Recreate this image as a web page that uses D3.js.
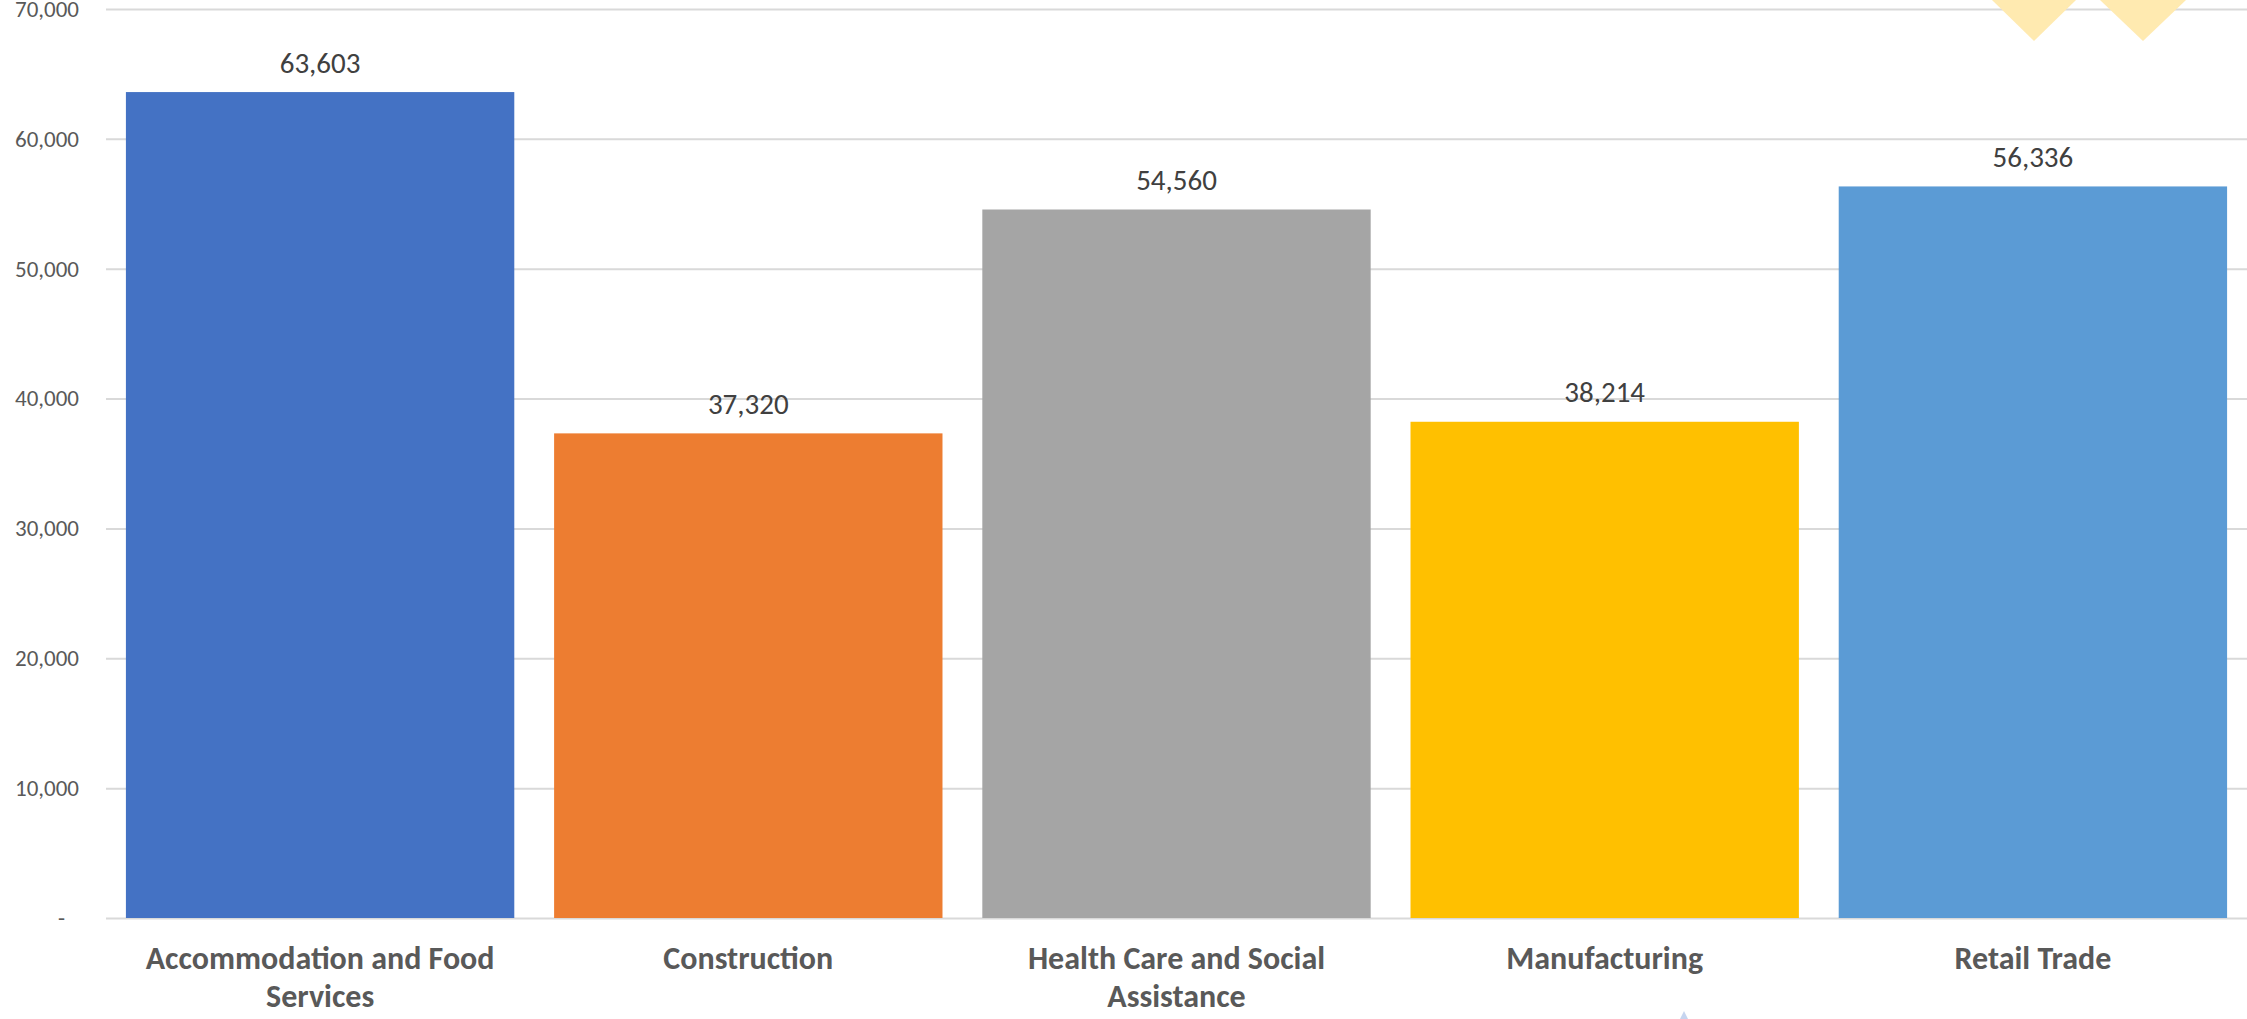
<!DOCTYPE html>
<html>
<head>
<meta charset="utf-8">
<script src="https://cdn.jsdelivr.net/npm/d3@7"></script>
<style>
  body { margin: 0; background: #ffffff; }
  svg { display: block; }
</style>
</head>
<body>
<div id="chart"></div>
<script>
// Chart data
var industries = ["Accommodation and Food Services", "Construction", "Health Care and Social Assistance", "Manufacturing", "Retail Trade"];
var workers = [63603, 37320, 54560, 38214, 56336];
var barColors = ["#4472C4", "#ED7D31", "#A5A5A5", "#FFC000", "#5B9BD5"];
var yTicks = [0, 10000, 20000, 30000, 40000, 50000, 60000, 70000];

// Define SVG area dimensions
var svgWidth = 2247;
var svgHeight = 1019;

var chartMargin = {
  top: 9,
  right: 0,
  bottom: 101,
  left: 106
};

var chartWidth = svgWidth - chartMargin.left - chartMargin.right;
var chartHeight = svgHeight - chartMargin.top - chartMargin.bottom;

var fontStack = "Calibri, Carlito, 'Liberation Sans', Arial, sans-serif";

var svg = d3.select("#chart")
  .append("svg")
  .attr("width", svgWidth)
  .attr("height", svgHeight)
  .style("font-family", fontStack);

svg.append("rect")
  .attr("width", svgWidth)
  .attr("height", svgHeight)
  .attr("fill", "#ffffff");

var chartGroup = svg.append("g")
  .attr("transform", `translate(${chartMargin.left}, ${chartMargin.top})`);

// Scales
var xScale = d3.scaleBand()
  .domain(industries)
  .range([0, chartWidth])
  .paddingInner(0.093)
  .paddingOuter(0.0465);

var yScale = d3.scaleLinear()
  .domain([0, 70000])
  .range([chartHeight, 0]);

// Gridlines
var gridAxis = d3.axisLeft(yScale)
  .tickValues(yTicks)
  .tickSize(-chartWidth)
  .tickFormat("");

var grid = chartGroup.append("g")
  .call(gridAxis);
grid.select(".domain").remove();
grid.selectAll("line")
  .attr("stroke", "#D9D9D9")
  .attr("stroke-width", 2);

// Y axis labels
var leftAxis = d3.axisLeft(yScale)
  .tickValues(yTicks)
  .tickSize(0)
  .tickPadding(27)
  .tickFormat(d => d === 0 ? "-" : d3.format(",")(d));

var yAxis = chartGroup.append("g")
  .call(leftAxis);
yAxis.select(".domain").remove();
yAxis.selectAll("text")
  .attr("font-family", fontStack)
  .attr("font-size", 23)
  .attr("fill", "#595959");
yAxis.selectAll(".tick")
  .filter(d => d === 0)
  .select("text")
  .attr("dx", -14);

// Bars
chartGroup.selectAll(".bar")
  .data(industries)
  .enter()
  .append("rect")
  .attr("class", "bar")
  .attr("x", d => xScale(d))
  .attr("y", (d, i) => yScale(workers[i]))
  .attr("width", xScale.bandwidth())
  .attr("height", (d, i) => chartHeight - yScale(workers[i]))
  .attr("fill", (d, i) => barColors[i]);

// Value labels
chartGroup.selectAll(".value")
  .data(industries)
  .enter()
  .append("text")
  .attr("class", "value")
  .attr("x", d => xScale(d) + xScale.bandwidth() / 2)
  .attr("y", (d, i) => yScale(workers[i]) - 19.5)
  .attr("text-anchor", "middle")
  .attr("font-size", 29)
  .attr("fill", "#404040")
  .text((d, i) => d3.format(",")(workers[i]));

// Category labels, wrapped to the bar width
var catGroup = chartGroup.append("g")
  .attr("transform", `translate(0, ${chartHeight})`);

var catLabels = catGroup.selectAll(".cat")
  .data(industries)
  .enter()
  .append("text")
  .attr("class", "cat")
  .attr("x", d => xScale(d) + xScale.bandwidth() / 2)
  .attr("y", 51)
  .attr("text-anchor", "middle")
  .attr("font-size", 32)
  .attr("font-weight", "bold")
  .attr("fill", "#595959");

catLabels.each(function(d) {
  var text = d3.select(this);
  var words = d.split(" ");
  var line = [];
  var x = text.attr("x");
  var tspan = text.append("tspan").attr("x", x).attr("dy", 0);
  words.forEach(function(w) {
    line.push(w);
    tspan.text(line.join(" "));
    if (tspan.node().getComputedTextLength() > xScale.bandwidth() - 20 && line.length > 1) {
      line.pop();
      tspan.text(line.join(" "));
      line = [w];
      tspan = text.append("tspan").attr("x", x).attr("dy", 38).text(w);
    }
  });
});

// Faint decorative shapes from the source image
var deco = svg.append("g");
deco.append("path")
  .attr("d", "M1992,0 L2076,0 L2034,41 Z")
  .attr("fill", "#FFEAB0");
deco.append("path")
  .attr("d", "M2100,0 L2186,0 L2143,41 Z")
  .attr("fill", "#FFEAB0");
deco.append("path")
  .attr("d", "M1680,1019 L1688,1019 L1684,1011 Z")
  .attr("fill", "#C6D5F0");
</script>
</body>
</html>
